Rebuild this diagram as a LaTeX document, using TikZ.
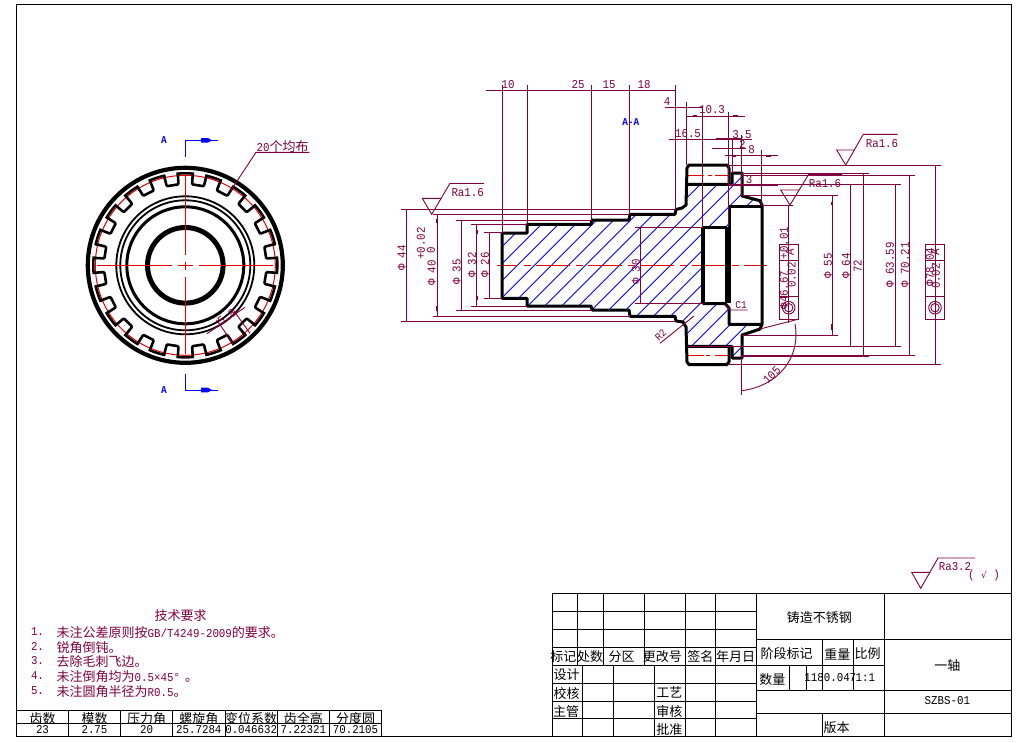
\documentclass[tikz,border=0pt]{standalone}
\usepackage{fontspec}
\setmainfont[FakeStretch=0.9]{Liberation Mono}
\newfontfamily\mono[FakeStretch=0.9]{Liberation Mono}
\newfontfamily\cjk{Noto Sans CJK SC}
\definecolor{dimc}{RGB}{128,0,64}
\definecolor{redc}{RGB}{230,0,0}
\definecolor{bluc}{RGB}{0,0,255}
\newcommand\MO[1]{{\mono\fontsize{12}{12}\selectfont #1}}
\tikzset{
  dimln/.style={draw=dimc,line width=0.9pt},
  dimthick/.style={draw=dimc,line width=2pt},
  bold/.style={draw=black,line width=3pt,line join=round},
  cen/.style={draw=redc,line width=1pt},
  hatchln/.style={draw=bluc,line width=0.8pt},
  frameln/.style={draw=black,line width=1pt},
  txt/.style={inner sep=0pt,outer sep=0pt,text=dimc,font=\fontsize{12}{12}\selectfont},
  cjt/.style={inner sep=0pt,outer sep=0pt,text=dimc,font=\cjk\fontsize{13}{13}\selectfont},
  blk/.style={inner sep=0pt,outer sep=0pt,text=black,font=\cjk\fontsize{13}{13}\selectfont},
  blkm/.style={inner sep=0pt,outer sep=0pt,text=black,font=\fontsize{12}{12}\selectfont},
  blu/.style={inner sep=0pt,outer sep=0pt,text=bluc,font=\bfseries\fontsize{10.5}{10.5}\selectfont},
}
\begin{document}
\begin{tikzpicture}[x=1pt,y=-1pt]
\useasboundingbox (0,0) rectangle (1017,742);
\fill[white] (0,0) rectangle (1017,742);
% outer frame
\draw[frameln] (16.5,4.5) rectangle (1011.5,736.5);

% ===== gear end view =====
\begin{scope}[shift={(185.3,265.3)}]
  \draw[black,line width=4.2pt] (0,0) circle[radius=97.5pt];
  \draw[black,line width=2.6pt] (0,0) circle[radius=92pt];
  \foreach \a in {9,27,...,351}{
    \begin{scope}[rotate=\a+90]
      \fill[white] (90pt,-5.6pt) rectangle (93.6pt,5.6pt);
    \end{scope}
  }
  \draw[redc,line width=1pt] (0,0) circle[radius=90pt];
  \foreach \a in {9,27,...,351}{
    \begin{scope}[rotate=\a+90]
      \draw[black,line width=2.6pt,line join=round] (92pt,-7pt) -- (90pt,-6.8pt) -- (82pt,-6pt) -- (81pt,-5pt) -- (81pt,5pt) -- (82pt,6pt) -- (90pt,6.8pt) -- (92pt,7pt);
    \end{scope}
  }
  \draw[black,line width=1.8pt] (0,0) circle[radius=69pt];
  \draw[black,line width=1.8pt] (0,0) circle[radius=65pt];
  \draw[black,line width=3pt] (0,0) circle[radius=58.5pt];
  \draw[black,line width=5pt] (0,0) circle[radius=37.8pt];
\end{scope}
% gear centre lines
\draw[cen] (96.7,265.3) -- (171.7,265.3);
\draw[cen] (178.3,265.3) -- (192.7,265.3);
\draw[cen] (199.3,265.3) -- (273.3,265.3);
\draw[cen] (185.3,175) -- (185.3,255);
\draw[cen] (185.3,261.5) -- (185.3,269.5);
\draw[cen] (185.3,276.5) -- (185.3,353.5);
% gear annotations
\draw[dimln] (309.3,152.3) -- (256,152.3) -- (230,191.7);
\node[cjt,anchor=base] (n20) at (282.7,151) {\MO{20}个均布};
\draw[dimln] (206.7,334) -- (245,307.3);
\draw[dimln] (216.7,320) -- (233.3,344);
\draw[dimln] (233.3,310) -- (250,333.3);
\node[txt,rotate=35] (n58) at (226.7,316.7) {5.8};
% section marks
\node[blu] (a1) at (164,140) {A};
\node[blu] (a2) at (164,390) {A};
\draw[bluc,line width=1pt] (185.3,156.7) -- (185.3,140.3) -- (217.7,140.3);
\draw[bluc,line width=1pt] (185.3,374.3) -- (185.3,390) -- (217.7,390);
\fill[bluc] (201,138) -- (208,138) -- (212,140.3) -- (208,142.6) -- (201,142.6) -- cycle;
\fill[bluc] (201,387.7) -- (208,387.7) -- (212,390) -- (208,392.3) -- (201,392.3) -- cycle;
\node[blu] (aa) at (630.8,122.3) {A-A};

% ===== section: hatching =====
\begin{scope}
  \clip (502,233) -- (527,233) -- (527,224) -- (591,224) -- (591,220) -- (629,220) -- (629,214) -- (675,214) -- (675,209) -- (682,208) -- (686,205) -- (687,184) -- (732,184) -- (732,173) -- (742,173) -- (742,196) -- (760,201) -- (762,206) -- (729,206) -- (729,228) -- (703,228) -- (703,303) -- (725,303) -- (729,308) -- (729,324) -- (762,324) -- (760,329) -- (742,335) -- (742,358) -- (732,358) -- (732,346) -- (687,346) -- (686,327) -- (683,322) -- (676,321) -- (675,316) -- (630,316) -- (629,310) -- (592,310) -- (591,306) -- (527,306) -- (527,298) -- (502,298) -- cycle;
  \foreach \k in {-5,...,18}{
    \pgfmathsetmacro\s{816.7+17*\k}
    \draw[hatchln] ({\s-100},100) -- ({\s-400},400);
  }
\end{scope}
% axis + pitch lines
\draw[cen,dash pattern=on 34pt off 5.5pt on 7pt off 5.5pt,dash phase=12.3pt] (496.7,265.3) -- (766.7,265.3);
\draw[cen] (687,175.3) -- (704,175.3);
\draw[cen] (708,175.3) -- (712,175.3);
\draw[cen] (715,175.3) -- (729,175.3);
\draw[cen] (687,355.3) -- (704,355.3);
\draw[cen] (706,355.3) -- (710,355.3);
\draw[cen] (715,355.3) -- (729,355.3);
% outline
\draw[bold] (502,233) -- (527,233) -- (527,224.3) -- (591,224.3) -- (592,220) -- (629,220) -- (630,214.3) -- (675,214.3) -- (676,209.5) -- (682,208) -- (686,205) -- (687,168) -- (689,165) -- (727,165) -- (729,168) -- (729,184.3);
\draw[bold] (687,184.3) -- (732,184.3) -- (732,173) -- (742,173) -- (742,196) -- (760,200.7) -- (762,205) -- (762,324.3) -- (760,329) -- (742,335) -- (742,358) -- (732,358) -- (732,346.3) -- (687,346.3);
\draw[bold] (729,346.3) -- (729,362) -- (727,364.5) -- (689,364.5) -- (687,362) -- (686,327) -- (683,322) -- (676,321) -- (675,316.3) -- (630,316.3) -- (629,310) -- (592,310) -- (591,306) -- (527,306) -- (527,298.3) -- (502,298.3) -- (502,233);
\draw[bold] (729,206) -- (762,206);
\draw[bold] (729,206) -- (729,227);
\draw[bold,line width=6pt] (727.5,227) -- (727.5,303);
\draw[bold,line width=4pt] (702.7,226.7) -- (702.7,304);
\draw[bold] (702.7,227.5) -- (727,227.5);
\draw[bold] (702.7,303.5) -- (725,303.5) -- (729,308) -- (729,324.3) -- (762,324.3);

% ===== dimension lines =====
% top chain
\draw[dimln] (486,90.5) -- (675.5,90.5);
\draw[dimln] (502.3,85) -- (502.3,233);
\draw[dimln] (527.3,85) -- (527.3,224);
\draw[dimln] (591.3,85) -- (591.3,220);
\draw[dimln] (629.3,85) -- (629.3,214);
\draw[dimln] (675.3,85) -- (675.3,209);
\node[txt] (d10) at (508,85) {10};
\node[txt] (d25) at (578,85) {25};
\node[txt] (d15) at (609,85) {15};
\node[txt] (d18) at (644,85) {18};
% right top chain
\draw[dimln] (665,107.3) -- (702.3,107.3);
\draw[dimln] (702.3,107.3) -- (702.3,228);
\draw[dimln] (686.7,102.3) -- (686.7,165);
\draw[dimln] (685.7,116.3) -- (745,116.3);
\draw[dimln] (728.3,111.7) -- (728.3,227);
\draw[dimln] (669.3,139.3) -- (751.7,139.3);
\draw[dimln] (741.7,135) -- (741.7,196);
\draw[dimln] (732.3,139) -- (732.3,173);
\draw[dimln] (712,148.3) -- (746,148.3);
\draw[dimln] (725,155.7) -- (777.7,155.7);
\draw[dimln] (761.7,150) -- (761.7,205);
\draw[dimthick] (693,116.3) -- (697,116.3);
\draw[dimthick] (733,116.3) -- (738,116.3);
\draw[dimthick] (716,139.3) -- (741.7,139.3);
\draw[dimthick] (732,155.7) -- (736,155.7);
\draw[dimthick] (766,155.7) -- (771,155.7);
\draw[dimthick] (728,185) -- (777.7,185);
\draw[dimthick] (808,174.3) -- (841.7,174.3);
\node[txt] (d4) at (667,102) {4};
\node[txt] (d103) at (712,110) {10.3};
\node[txt] (d165) at (688,134) {16.5};
\node[txt] (d35) at (742,135) {3.5};
\node[txt] (d2) at (742.3,144) {2};
\node[txt] (d8) at (751.7,150) {8};
\node[txt] (d3) at (749,180) {3};
% left diameters
\draw[dimln] (401,209.3) -- (675.7,209.3);
\draw[dimln] (401,321) -- (675.7,321);
\draw[dimln] (406,209.3) -- (406,321);
\draw[dimln] (432.7,214.3) -- (629,214.3);
\draw[dimln] (432.7,316.3) -- (630,316.3);
\draw[dimln] (437.3,214.3) -- (437.3,316.3);
\draw[dimln] (456,220) -- (591.7,220);
\draw[dimln] (456,310) -- (591.7,310);
\draw[dimln] (461.3,220) -- (461.3,310);
\draw[dimln] (471,224.3) -- (527,224.3);
\draw[dimln] (471,306) -- (527,306);
\draw[dimln] (476.7,224.3) -- (476.7,306);
\draw[dimln] (484,232.3) -- (502,232.3);
\draw[dimln] (484,298.3) -- (502,298.3);
\draw[dimln] (489.3,232.3) -- (489.3,298.3);
\draw[dimln] (635,227.3) -- (702,227.3);
\draw[dimln] (635,303.3) -- (703,303.3);
\draw[dimln] (640.7,227.3) -- (640.7,303.3);
\draw[dimthick] (437.3,219) -- (437.3,223);
\draw[dimthick] (476.7,230) -- (476.7,234);
\draw[dimthick] (437.3,306) -- (437.3,311);
\draw[dimthick] (476.7,296) -- (476.7,300);
\node[txt,rotate=90] (p44) at (401.7,258) {Φ 44};
\node[txt,rotate=90] (p40) at (431.7,273) {Φ 40};
\node[txt,rotate=90] (p40a) at (421,243.5) {+0.02};
\node[txt,rotate=90] (p40b) at (431,250) {0};
\node[txt,rotate=90] (p35) at (456.7,272) {Φ 35};
\node[txt,rotate=90] (p32) at (472,265) {Φ 32};
\node[txt,rotate=90] (p26) at (485,265) {Φ 26};
\node[txt,rotate=90] (p30) at (636,272) {Φ 30};
% right diameters
\draw[dimln] (728,165) -- (940.7,165);
\draw[dimln] (728.3,364.3) -- (940.7,364.3);
\draw[dimln] (935.7,165) -- (935.7,364.3);
\draw[dimln] (741.7,175.3) -- (915,175.3);
\draw[dimln] (741.7,355) -- (915,355);
\draw[dimln] (909.3,175.3) -- (909.3,355);
\draw[dimln] (743,184.3) -- (900.7,184.3);
\draw[dimln] (687,346.2) -- (900.7,346.2);
\draw[dimln] (895.7,184.3) -- (895.7,346.2);
\draw[dimln] (741.7,173.3) -- (869,173.3);
\draw[dimln] (741.7,356.7) -- (869,356.7);
\draw[dimln] (863.3,173.3) -- (863.3,356.7);
\draw[dimln] (850.7,184.3) -- (850.7,346.2);
\draw[dimln] (741.7,195.7) -- (837.7,195.7);
\draw[dimln] (741.7,335) -- (837.7,335);
\draw[dimln] (832.3,195.7) -- (832.3,335);
\draw[dimln] (761.7,205) -- (793,205);
\draw[dimln] (788.3,205) -- (788.3,323);
\draw[dimthick] (832.3,201.7) -- (832.3,204.5);
\draw[dimthick] (832.3,324) -- (832.3,330);
\node[txt,rotate=90] (p55) at (828,266) {Φ 55};
\node[txt,rotate=90] (p64) at (846,266) {Φ 64};
\node[txt,rotate=90] (n72) at (857.7,266) {72};
\node[txt,rotate=90] (p63) at (890,265) {Φ 63.59};
\node[txt,rotate=90] (p70) at (905,265) {Φ 70.21};
% tolerance frames
\draw[dimln] (779.3,244.3) rectangle (798.7,319.3);
\draw[dimln] (779.3,260) -- (798.7,260);
\draw[dimln] (779.3,296) -- (798.7,296);
\draw[dimln] (925.7,244.3) rectangle (944.3,319.3);
\draw[dimln] (925.7,260) -- (944.3,260);
\draw[dimln] (925.7,296) -- (944.3,296);
\draw[dimln] (788.7,307.7) circle[radius=6.3pt];
\draw[dimln] (788.7,307.7) circle[radius=4.2pt];
\draw[dimln] (935,307.7) circle[radius=6.3pt];
\draw[dimln] (935,307.7) circle[radius=4.2pt];
\node[txt,rotate=90] (p46) at (784,290) {Φ46.67};
\node[txt,rotate=90] (p46b) at (784,243) {+0.01};
\node[txt,rotate=90] (t1) at (791.7,275) {0.02};
\node[txt,rotate=90] (ta1) at (790,252) {A};
\node[txt,rotate=90] (p78) at (930,267) {Φ78.04};
\node[txt,rotate=90] (t2) at (936,276) {0.02};
\node[txt,rotate=90] (ta2) at (935.5,252) {A};
% angle 105
\draw[dimln] (760,329) -- (799,319);
\draw[dimln] (741.7,355) -- (741.7,395);
\draw[dimln] (795,324) .. controls (801,358) and (778,386) .. (741.7,390.7);
\node[txt,rotate=45] (n105) at (771.7,375) {105};
% C1, R2
\draw[dimln] (725,304) -- (730,310) -- (747.7,310);
\node[txt,font=\fontsize{10.5}{10.5}\selectfont] (c1) at (741,305) {C1};
\draw[dimln] (660,343.3) -- (694,316);
\node[txt,rotate=45,font=\fontsize{10.5}{10.5}\selectfont] (r2) at (660.7,335) {R2};
% roughness symbols
\draw[dimln] (450,183.3) -- (431.7,214.3) -- (422.3,198.3) -- (441.7,198.3);
\draw[dimln] (484,183.3) -- (450,183.3);
\node[txt] (ra1) at (467.7,192.7) {Ra1.6};
\draw[dimln] (897.7,134.3) -- (863.3,134.3) -- (845.7,165) -- (836.7,150) -- (854.3,150);
\node[txt] (ra2) at (882,143.3) {Ra1.6};
\draw[dimln] (841.7,175) -- (808.3,175) -- (790,205) -- (780.7,190) -- (799,190);
\node[txt] (ra3) at (825,183.3) {Ra1.6};
\draw[dimln] (975,558) -- (938,558) -- (920.7,588.3) -- (911.7,572.3) -- (930,572.3);
\node[txt] (ra4) at (955,566.7) {Ra3.2};
\node[txt] (ra5) at (984,575) {( \fontspec{DejaVu Sans}\fontsize{9}{9}\selectfont √\mono\fontsize{12}{12}\selectfont{} )};

% ===== technical notes =====
\node[cjt] (tt) at (180.7,615.7) {技术要求};
\node[txt,anchor=west] (l1) at (31,631.7) {1.};
\node[txt,anchor=west] (l2) at (31,646) {2.};
\node[txt,anchor=west] (l3) at (31,661) {3.};
\node[txt,anchor=west] (l4) at (31,676) {4.};
\node[txt,anchor=west] (l5) at (31,690.7) {5.};
\node[cjt,anchor=west] (m1) at (56.7,632.5) {未注公差原则按\MO{GB/T4249-2009}的要求。};
\node[cjt,anchor=west] (m2) at (56.7,647.5) {锐角倒钝。};
\node[cjt,anchor=west] (m3) at (56.7,662) {去除毛刺飞边。};
\node[cjt,anchor=west] (m4) at (56.7,677) {未注倒角均为\MO{0.5×45°}\hspace{5pt}。};
\node[cjt,anchor=west] (m5) at (56.7,692) {未注圆角半径为\MO{R0.5}。};

% ===== gear data table =====
\draw[frameln] (16.7,710) -- (382,710);
\draw[frameln] (16.7,723.3) -- (381.7,723.3);
\draw[frameln] (16.7,736) -- (381.7,736);
\foreach \x in {68.3,120.7,172.7,225,277.3,329.3,381.7}{\draw[frameln] (\x,710) -- (\x,736);}
\foreach \x/\t/\v/\n in {42.5/齿数/23/a,94.5/模数/2.75/b,146.7/压力角/20/c,198.8/螺旋角/25.7284/d,251.2/变位系数/0.046632/e,303.3/齿全高/7.22321/f,355.5/分度圆/70.2105/g}{
  \node[blk] (h\n) at (\x,718.3) {\t};
  \node[blkm] (v\n) at (\x,730) {\v};
}

% ===== title block =====
\draw[frameln] (552.3,593.3) rectangle (1011.5,736);
\foreach \y in {611.7,629.3,647.3,665.3,683.7,701.7,718.3}{\draw[frameln] (552.3,\y) -- (756.7,\y);}
\foreach \x in {577.7,603.3,644.7}{\draw[frameln] (\x,593.3) -- (\x,665.3);}
\foreach \x in {685.7,715.7}{\draw[frameln] (\x,593.3) -- (\x,736);}
\foreach \x in {582.7,613.3,654.7}{\draw[frameln] (\x,665.3) -- (\x,736);}
\draw[frameln] (756.7,593.3) -- (756.7,736);
\draw[frameln] (884.3,593.3) -- (884.3,736);
\draw[frameln] (756.7,639.3) -- (1011.5,639.3);
\draw[frameln] (756.7,665.3) -- (884.3,665.3);
\draw[frameln] (756.7,690.3) -- (1011.5,690.3);
\draw[frameln] (756.7,713.3) -- (1011.5,713.3);
\draw[frameln] (822.7,639.3) -- (822.7,690.3);
\draw[frameln] (853.3,639.3) -- (853.3,690.3);
\draw[frameln] (789.3,665.3) -- (789.3,690.3);
\draw[frameln] (806.7,665.3) -- (806.7,690.3);
\draw[frameln] (822.7,713.3) -- (822.7,736);
\node[blk] (b01) at (819.3,617.3) {铸造不锈钢};
\node[blk] (b02) at (563.3,657) {标记};
\node[blk] (b03) at (590,657) {处数};
\node[blk] (b04) at (621.7,657) {分区};
\node[blk] (b05) at (662.3,657) {更改号};
\node[blk] (b06) at (700.3,657) {签名};
\node[blk] (b07) at (735.7,657) {年月日};
\node[blk] (b08) at (786.7,654) {阶段标记};
\node[blk] (b09) at (837.3,654) {重量};
\node[blk] (b10) at (867.7,654) {比例};
\node[blk] (b11) at (947.3,665.3) {一轴};
\node[blk] (b12) at (566.7,675) {设计};
\node[blk] (b13) at (566.7,693.3) {校核};
\node[blk] (b14) at (566,711.7) {主管};
\node[blk] (b15) at (669.3,692.7) {工艺};
\node[blk] (b16) at (669.3,711.7) {审核};
\node[blk] (b17) at (669.3,729.3) {批准};
\node[blk] (b18) at (772.3,679.3) {数量};
\node[blkm] (b19) at (830.3,677.7) {1180.047};
\node[blkm] (b20) at (865.3,677.7) {1:1};
\node[blkm] (b21) at (947.3,700.3) {SZBS-01};
\node[blk] (b22) at (836.7,727.7) {版本};
\end{tikzpicture}
\end{document}
